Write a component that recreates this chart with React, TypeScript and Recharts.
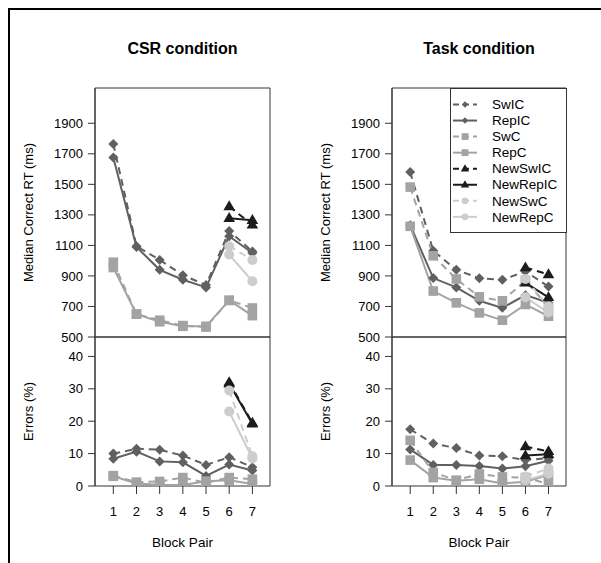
import React from 'react';
import { LineChart, Line, XAxis, YAxis, ReferenceArea, Legend } from 'recharts';

const blockPairs = [1, 2, 3, 4, 5, 6, 7];
const rtTicks = [500, 700, 900, 1100, 1300, 1500, 1700, 1900];
const errTicks = [0, 10, 20, 30, 40];
const seriesNames = ['SwIC', 'RepIC', 'SwC', 'RepC', 'NewSwIC', 'NewRepIC', 'NewSwC', 'NewRepC'];

// CSR condition, median correct RT (ms)
const csrRtSwIC = [1765, 1095, 1005, 905, 840, 1195, 1060];
const csrRtRepIC = [1675, 1090, 940, 875, 825, 1160, 1050];
const csrRtSwC = [990, 650, 610, 575, 565, 740, 690];
const csrRtRepC = [955, 650, 600, 570, 570, 740, 640];
const csrRtNewSwIC = [null, null, null, null, null, 1355, 1235];
const csrRtNewRepIC = [null, null, null, null, null, 1278, 1265];
const csrRtNewSwC = [null, null, null, null, null, 1095, 1005];
const csrRtNewRepC = [null, null, null, null, null, 1040, 865];

// CSR condition, errors (%)
const csrErrSwIC = [10, 11.5, 11.2, 9.4, 6.5, 8.9, 5.8];
const csrErrRepIC = [8.4, 10.6, 7.6, 7.3, 3.1, 6.6, 4.8];
const csrErrSwC = [3.2, 1.2, 1.4, 2.6, 1.0, 2.6, 2.1];
const csrErrRepC = [3.0, 0.8, 0.4, 0.3, 1.5, 1.8, 0.6];
const csrErrNewSwIC = [null, null, null, null, null, 32, 19.5];
const csrErrNewRepIC = [null, null, null, null, null, 31.6, 19.2];
const csrErrNewSwC = [null, null, null, null, null, 29.5, 9.2];
const csrErrNewRepC = [null, null, null, null, null, 23, 8.5];

// Task condition, median correct RT (ms)
const taskRtSwIC = [1580, 1065, 940, 885, 875, 930, 830];
const taskRtRepIC = [1232, 886, 825, 737, 691, 774, 724];
const taskRtSwC = [1482, 1032, 880, 763, 737, 870, 697];
const taskRtRepC = [1225, 801, 724, 658, 610, 713, 636];
const taskRtNewSwIC = [null, null, null, null, null, 955, 910];
const taskRtNewRepIC = [null, null, null, null, null, 855, 760];
const taskRtNewSwC = [null, null, null, null, null, 880, 700];
const taskRtNewRepC = [null, null, null, null, null, 760, 660];

// Task condition, errors (%)
const taskErrSwIC = [17.5, 13.1, 11.7, 9.4, 9.2, 8.0, 8.6];
const taskErrRepIC = [11.3, 6.5, 6.5, 6.2, 5.4, 6.1, 7.8];
const taskErrSwC = [14.1, 4.2, 1.8, 3.7, 2.8, 2.6, 0.6];
const taskErrRepC = [8.0, 2.6, 1.6, 2.1, 0.8, 1.3, 3.4];
const taskErrNewSwIC = [null, null, null, null, null, 12.2, 10.7];
const taskErrNewRepIC = [null, null, null, null, null, 9.4, 9.8];
const taskErrNewSwC = [null, null, null, null, null, 2.9, 5.4];
const taskErrNewRepC = [null, null, null, null, null, 1.8, 3.8];

type Shape = 'diamond' | 'square' | 'triangle' | 'circle';

const FONT = '"Liberation Sans", Arial, Helvetica, sans-serif';
const X_DOMAIN: [number, number] = [0.21, 7.76];
const RT_DOMAIN: [number, number] = [500, 2131];
const ERR_DOMAIN: [number, number] = [0, 46];

const seriesStyles: Record<string, { color: string; dashed: boolean; shape: Shape }> = {
  SwIC: { color: '#606060', dashed: true, shape: 'diamond' },
  RepIC: { color: '#606060', dashed: false, shape: 'diamond' },
  SwC: { color: '#a3a3a3', dashed: true, shape: 'square' },
  RepC: { color: '#a3a3a3', dashed: false, shape: 'square' },
  NewSwIC: { color: '#1c1c1c', dashed: true, shape: 'triangle' },
  NewRepIC: { color: '#1c1c1c', dashed: false, shape: 'triangle' },
  NewSwC: { color: '#cdcdcd', dashed: true, shape: 'circle' },
  NewRepC: { color: '#cdcdcd', dashed: false, shape: 'circle' },
};

const markerSize: Record<Shape, number> = { diamond: 5, square: 4.8, triangle: 5.8, circle: 5 };

const buildRows = (series: (number | null)[][]) =>
  blockPairs.map((bp, i) => {
    const row: Record<string, number | null> = { bp };
    seriesNames.forEach((name, s) => {
      row[name] = series[s][i];
    });
    return row;
  });

const csrRt = buildRows([csrRtSwIC, csrRtRepIC, csrRtSwC, csrRtRepC, csrRtNewSwIC, csrRtNewRepIC, csrRtNewSwC, csrRtNewRepC]);
const csrErr = buildRows([csrErrSwIC, csrErrRepIC, csrErrSwC, csrErrRepC, csrErrNewSwIC, csrErrNewRepIC, csrErrNewSwC, csrErrNewRepC]);
const taskRt = buildRows([taskRtSwIC, taskRtRepIC, taskRtSwC, taskRtRepC, taskRtNewSwIC, taskRtNewRepIC, taskRtNewSwC, taskRtNewRepC]);
const taskErr = buildRows([taskErrSwIC, taskErrRepIC, taskErrSwC, taskErrRepC, taskErrNewSwIC, taskErrNewRepIC, taskErrNewSwC, taskErrNewRepC]);

function marker(shape: Shape, cx: number, cy: number, color: string, s: number) {
  switch (shape) {
    case 'diamond':
      return <polygon points={`${cx},${cy - s} ${cx + s},${cy} ${cx},${cy + s} ${cx - s},${cy}`} fill={color} />;
    case 'square':
      return <rect x={cx - s} y={cy - s} width={2 * s} height={2 * s} fill={color} />;
    case 'triangle': {
      const h = s * 1.7;
      return (
        <polygon
          points={`${cx},${cy - h * 0.62} ${cx + s},${cy + h * 0.38} ${cx - s},${cy + h * 0.38}`}
          fill={color}
        />
      );
    }
    default:
      return <circle cx={cx} cy={cy} r={s} fill={color} />;
  }
}

const makeDot = (name: string) => (props: any) => {
  const { cx, cy, index, value } = props;
  const st = seriesStyles[name];
  if (value == null || typeof cy !== 'number' || isNaN(cy)) return <g key={`${name}-${index}`} />;
  return <g key={`${name}-${index}`}>{marker(st.shape, cx, cy, st.color, markerSize[st.shape])}</g>;
};

const renderLegend = () => (
  <svg width={117} height={145} style={{ display: 'block' }}>
    <rect x={0.5} y={0.5} width={116} height={144} fill="#fff" stroke="#333" />
    {seriesNames.map((name, i) => {
      const st = seriesStyles[name];
      const y = 16.5 + i * 16.05;
      const small: Record<Shape, number> = { diamond: 3.2, square: 3.4, triangle: 4.2, circle: 3.4 };
      return (
        <g key={name}>
          <line
            x1={3}
            x2={27}
            y1={y}
            y2={y}
            stroke={st.color}
            strokeWidth={2}
            strokeDasharray={st.dashed ? '6 4' : undefined}
          />
          {marker(st.shape, 15, y, st.color, small[st.shape])}
          <text x={42} y={y} dy="0.35em" fontSize={13.5} fontFamily={FONT} fill="#000">
            {name}
          </text>
        </g>
      );
    })}
  </svg>
);

const yTitle = (text: string, offsetX: number) => (props: any) => {
  const vb = props.viewBox || { x: 0, y: 0, height: 0 };
  const x = vb.x + offsetX;
  const y = vb.y + vb.height / 2;
  return (
    <text
      x={x}
      y={y}
      transform={`rotate(-90 ${x} ${y})`}
      textAnchor="middle"
      dy="0.35em"
      fontSize={13}
      fontFamily={FONT}
      fill="#000"
    >
      {text}
    </text>
  );
};

interface PanelProps {
  title: string;
  plotLeft: number;
  plotRight: number;
  chartLeft: number;
  labelX: number;
  rt: Record<string, number | null>[];
  err: Record<string, number | null>[];
  legend?: boolean;
}

const RT_TOP = 88;
const RT_BOTTOM = 337;
const ERR_BOTTOM = 486;
const PAD = 2;
const RT_PAD_BOTTOM = 10;
const X_AXIS_H = 75;

const renderLines = () =>
  seriesNames.map((name) => {
    const st = seriesStyles[name];
    return (
      <Line
        key={name}
        type="linear"
        dataKey={name}
        stroke={st.color}
        strokeWidth={2}
        strokeDasharray={st.dashed ? '7 5' : undefined}
        dot={makeDot(name)}
        activeDot={false}
        isAnimationActive={false}
      />
    );
  });

const tickStyle = { fontSize: 13, fill: '#000', fontFamily: FONT };

const Panel: React.FC<PanelProps> = ({ title, plotLeft, plotRight, chartLeft, labelX, rt, err, legend }) => {
  const yw = plotLeft - chartLeft;
  const width = yw + (plotRight - plotLeft) + 4;
  return (
    <>
      <div
        style={{
          position: 'absolute',
          left: plotLeft,
          width: plotRight - plotLeft,
          top: 38,
          textAlign: 'center',
          fontFamily: FONT,
          fontWeight: 'bold',
          fontSize: 16,
          lineHeight: '22px',
        }}
      >
        {title}
      </div>
      <div style={{ position: 'absolute', left: chartLeft, top: RT_BOTTOM - PAD }}>
        <LineChart
          width={width}
          height={ERR_BOTTOM - RT_BOTTOM + PAD + X_AXIS_H}
          data={err}
          margin={{ top: PAD, right: 4, bottom: 0, left: 0 }}
        >
          <XAxis
            type="number"
            dataKey="bp"
            domain={X_DOMAIN}
            ticks={blockPairs}
            interval={0}
            allowDataOverflow
            height={X_AXIS_H}
            tickSize={8}
            tickMargin={13}
            tick={tickStyle}
            tickLine={{ stroke: '#333' }}
            axisLine={false}
            label={{ value: 'Block Pair', position: 'insideBottom', offset: 14, fontSize: 13.5, fontFamily: FONT, fill: '#000' }}
          />
          <YAxis
            type="number"
            domain={ERR_DOMAIN}
            ticks={errTicks}
            interval={0}
            allowDataOverflow
            width={yw}
            tickSize={7}
            tickMargin={5}
            tick={tickStyle}
            tickLine={{ stroke: '#333' }}
            axisLine={{ stroke: '#333' }}
            label={{ content: yTitle('Errors (%)', labelX - chartLeft) }}
          />
          <ReferenceArea
            x1={X_DOMAIN[0]}
            x2={X_DOMAIN[1]}
            y1={ERR_DOMAIN[0]}
            y2={ERR_DOMAIN[1]}
            fill="none"
            stroke="#333"
            strokeWidth={1}
          />
          {renderLines()}
        </LineChart>
      </div>
      <div style={{ position: 'absolute', left: chartLeft, top: RT_TOP - PAD }}>
        <LineChart
          width={width}
          height={RT_BOTTOM - RT_TOP + PAD + RT_PAD_BOTTOM}
          data={rt}
          margin={{ top: PAD, right: 4, bottom: RT_PAD_BOTTOM, left: 0 }}
        >
          <XAxis type="number" dataKey="bp" domain={X_DOMAIN} allowDataOverflow hide />
          <YAxis
            type="number"
            domain={RT_DOMAIN}
            ticks={rtTicks}
            interval={0}
            allowDataOverflow
            width={yw}
            tickSize={7}
            tickMargin={5}
            tick={tickStyle}
            tickLine={{ stroke: '#333' }}
            axisLine={{ stroke: '#333' }}
            label={{ content: yTitle('Median Correct RT (ms)', labelX - chartLeft) }}
          />
          <ReferenceArea
            x1={X_DOMAIN[0]}
            x2={X_DOMAIN[1]}
            y1={RT_DOMAIN[0]}
            y2={RT_DOMAIN[1]}
            fill="none"
            stroke="#333"
            strokeWidth={1}
          />
          {renderLines()}
          {legend && (
            <Legend
              layout="horizontal"
              verticalAlign="middle"
              align="center"
              content={renderLegend}
              wrapperStyle={{ position: 'absolute', left: 450 - chartLeft, top: PAD, width: 117, height: 145 }}
            />
          )}
        </LineChart>
      </div>
    </>
  );
};

export default function App() {
  return (
    <div
      style={{
        position: 'absolute',
        left: 0,
        top: 0,
        width: 601,
        height: 563,
        background: '#fff',
        overflow: 'hidden',
        fontFamily: FONT,
      }}
    >
      <div
        style={{
          position: 'absolute',
          left: 8,
          top: 8,
          width: 600,
          height: 560,
          borderLeft: '2px solid #000',
          borderTop: '2px solid #000',
        }}
      />
      <Panel title="CSR condition" plotLeft={95} plotRight={270} chartLeft={10} labelX={28} rt={csrRt} err={csrErr} />
      <Panel
        title="Task condition"
        plotLeft={392}
        plotRight={566}
        chartLeft={300}
        labelX={325}
        rt={taskRt}
        err={taskErr}
        legend
      />
    </div>
  );
}
